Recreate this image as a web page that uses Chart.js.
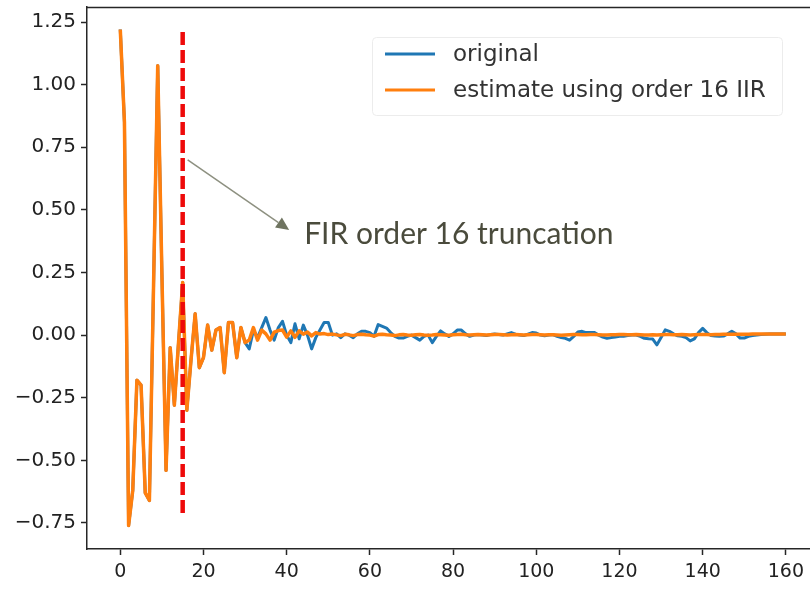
<!DOCTYPE html>
<html><head><meta charset="utf-8">
<script src="https://cdn.jsdelivr.net/npm/chart.js@4.4.1/dist/chart.umd.min.js"></script>
<style>html,body{margin:0;padding:0;background:#fff;overflow:hidden}canvas{display:block}</style>
</head><body>
<canvas id="c" width="810" height="589"></canvas>
<script>
// ---- data ----
const ORIGINAL = [
  1.22, 0.85, -0.76, -0.62, -0.18, -0.20, -0.63, -0.66, 0.20, 1.075,
  0.25, -0.54, -0.05, -0.28, -0.03, 0.21, -0.30, -0.10, 0.085, -0.13,
  -0.09, 0.04, -0.06, 0.02, 0.03, -0.15, 0.05, 0.05, -0.09, 0.03,
  -0.03, -0.055, 0.02, -0.01, 0.03, 0.07, 0.02, -0.02, 0.03, 0.055,
  0.0, -0.03, 0.045, -0.015, 0.04, 0.0, -0.055, -0.01, 0.02, 0.05,
  0.05, 0.0, 0.005, -0.01, 0.005, 0.0, -0.01, 0.005, 0.015, 0.015,
  0.01, -0.005, 0.042, 0.035, 0.028, 0.01, -0.005, -0.012, -0.012, -0.005,
  0.0, -0.01, -0.02, -0.005, 0.0, -0.03, -0.005, 0.017, 0.005, -0.005,
  0.005, 0.02, 0.02, 0.005, -0.005, 0.0, 0.002, 0.0, -0.002, 0.002,
  0.004, 0.002, 0.0, 0.005, 0.01, 0.004, 0.0, -0.002, 0.004, 0.01,
  0.008, 0.0, -0.003, 0.0, 0.002, -0.005, -0.01, -0.013, -0.02, -0.005,
  0.012, 0.015, 0.01, 0.01, 0.01, 0.0, -0.008, -0.013, -0.01, -0.008,
  -0.005, -0.005, -0.002, 0.0, 0.0, -0.005, -0.013, -0.015, -0.016, -0.039,
  -0.01, 0.021, 0.015, 0.005, -0.003, -0.005, -0.01, -0.023, -0.015, 0.01,
  0.027, 0.01, -0.002, -0.004, -0.005, -0.004, 0.005, 0.015, 0.005, -0.012,
  -0.012, -0.005, -0.002, 0.0, 0.002, 0.003, 0.004, 0.004, 0.004, 0.004,
  0.004
];
const ESTIMATE = [
  1.22, 0.85, -0.76, -0.62, -0.18, -0.20, -0.63, -0.66, 0.20, 1.075,
  0.25, -0.54, -0.05, -0.28, -0.03, 0.21, -0.30, -0.10, 0.085, -0.13,
  -0.09, 0.04, -0.06, 0.02, 0.03, -0.15, 0.05, 0.05, -0.09, 0.03,
  -0.03, -0.02, 0.03, -0.02, 0.02, 0.005, -0.02, 0.012, 0.018, 0.02,
  -0.008, 0.017, -0.009, 0.017, 0.004, 0.012, -0.003, 0.01, 0.004, 0.006,
  0.002, 0.004, 0.001, -0.002, 0.003, 0.001, -0.002, 0.002, 0.003, 0.001,
  0.0, -0.004, 0.002, 0.003, 0.001, 0.0, -0.002, 0.001, 0.002, 0.0,
  -0.001, 0.001, 0.002, 0.0, -0.001, 0.0, 0.002, 0.001, 0.0, -0.001,
  0.001, 0.002, 0.003, 0.001, 0.0, 0.001, 0.002, 0.001, 0.0, 0.001,
  0.002, 0.002, 0.001, 0.0, 0.001, 0.002, 0.001, 0.0, 0.001, 0.002,
  0.002, 0.001, 0.0, 0.001, 0.001, 0.0, -0.001, 0.0, 0.001, 0.002,
  0.002, 0.001, 0.001, 0.002, 0.002, 0.001, 0.0, 0.0, 0.001, 0.001,
  0.002, 0.002, 0.001, 0.001, 0.002, 0.001, 0.0, 0.0, 0.001, 0.0,
  0.001, 0.002, 0.002, 0.001, 0.001, 0.002, 0.001, 0.0, 0.001, 0.002,
  0.002, 0.002, 0.001, 0.002, 0.002, 0.003, 0.003, 0.003, 0.003, 0.003,
  0.003, 0.003, 0.004, 0.004, 0.004, 0.004, 0.004, 0.004, 0.004, 0.004,
  0.004
];
const SAMPLE_INDEX = ORIGINAL.map((_, i) => i);
const SERIES_LABELS = ['original', 'estimate using order 16 IIR'];
const X_TICKS = [0, 20, 40, 60, 80, 100, 120, 140, 160];
const Y_TICKS = [-0.75, -0.5, -0.25, 0, 0.25, 0.5, 0.75, 1.0, 1.25];
const TRUNC_X = [15, 15];
const TRUNC_Y = [1.21, -0.72];
const ANNOT_TEXT = 'FIR order 16 truncation';
// -----------------------------------------------

const AXIS_COLOR = '#262626';

const extrasPlugin = {
  id: 'extras',
  afterDraw(chart) {
    const ctx = chart.ctx, ca = chart.chartArea;
    const xs = chart.scales.x, ys = chart.scales.y;
    ctx.save();
    // top spine
    ctx.strokeStyle = AXIS_COLOR; ctx.lineWidth = 1.5;
    ctx.beginPath(); ctx.moveTo(ca.left, ca.top + 0.5); ctx.lineTo(ca.right, ca.top + 0.5); ctx.stroke();

    // legend
    ctx.fillStyle = 'rgba(255,255,255,0.85)';
    ctx.strokeStyle = '#ececec'; ctx.lineWidth = 1;
    ctx.beginPath();
    if (ctx.roundRect) ctx.roundRect(372.5, 37.5, 410, 78, 4); else ctx.rect(372.5, 37.5, 410, 78);
    ctx.fill(); ctx.stroke();
    const rows = [54, 90];
    ctx.font = '23px "DejaVu Sans"';
    ctx.textBaseline = 'middle';
    [0, 1].forEach((di, k) => {
      const ds = chart.data.datasets[di];
      ctx.strokeStyle = ds.borderColor; ctx.lineWidth = 3;
      ctx.beginPath(); ctx.moveTo(385, rows[k]); ctx.lineTo(435, rows[k]); ctx.stroke();
      ctx.fillStyle = '#333';
      ctx.fillText(ds.label, 453, rows[k] + 1);
    });

    // annotation arrow
    const x0 = xs.getPixelForValue(16.2), y0 = ys.getPixelForValue(0.70);
    const x1 = xs.getPixelForValue(40.6), y1 = ys.getPixelForValue(0.42);
    const ang = Math.atan2(y1 - y0, x1 - x0);
    const hl = 13, hw = 6;
    const bx = x1 - hl * Math.cos(ang), by = y1 - hl * Math.sin(ang);
    ctx.strokeStyle = '#8d9080'; ctx.lineWidth = 1.5;
    ctx.beginPath(); ctx.moveTo(x0, y0); ctx.lineTo(bx, by); ctx.stroke();
    ctx.fillStyle = '#6f7460';
    ctx.beginPath();
    ctx.moveTo(x1, y1);
    ctx.lineTo(bx + hw * Math.sin(ang), by - hw * Math.cos(ang));
    ctx.lineTo(bx - hw * Math.sin(ang), by + hw * Math.cos(ang));
    ctx.closePath(); ctx.fill();

    // annotation text
    ctx.fillStyle = '#4a4b3c';
    ctx.font = '30px Lato';
    ctx.textBaseline = 'alphabetic';
    ctx.fillText(ANNOT_TEXT, xs.getPixelForValue(44.2), ys.getPixelForValue(0.365));
    ctx.restore();
  }
};

const fmtY = v => {
  const s = Math.abs(v) < 1e-9 ? '0.00' : v.toFixed(2);
  return s.replace('-', '\u2212');
};

new Chart(document.getElementById('c'), {
  type: 'line',
  data: {
    datasets: [
      { label: SERIES_LABELS[0], data: SAMPLE_INDEX.map(i => ({ x: i, y: ORIGINAL[i] })),
        borderColor: '#1f77b4', borderWidth: 3, pointRadius: 0, tension: 0, order: 2,
        borderJoinStyle: 'round' },
      { label: SERIES_LABELS[1], data: SAMPLE_INDEX.map(i => ({ x: i, y: ESTIMATE[i] })),
        borderColor: '#ff7f0e', borderWidth: 3.5, pointRadius: 0, tension: 0, order: 1,
        borderJoinStyle: 'round' },
      { label: 'truncation', data: TRUNC_X.map((x, i) => ({ x, y: TRUNC_Y[i] })),
        borderColor: '#ee0a0a', borderWidth: 4.5, borderDash: [13, 5], pointRadius: 0, order: 0 }
    ]
  },
  options: {
    responsive: false,
    devicePixelRatio: 1,
    animation: false,
    layout: { padding: { top: 7, right: 0, left: 0, bottom: 0 } },
    plugins: { legend: { display: false }, tooltip: { enabled: false } },
    scales: {
      x: {
        type: 'linear', min: -8, max: 165.8,
        afterBuildTicks: s => { s.ticks = X_TICKS.map(v => ({ value: v })); },
        afterFit: s => { s.height = 40; s.paddingLeft = 0; s.paddingRight = 0; },
        ticks: { font: { family: 'DejaVu Sans', size: 19 }, color: '#222', padding: 6,
                 maxRotation: 0, autoSkip: false, callback: v => String(v) },
        grid: { drawOnChartArea: false, drawTicks: true, tickLength: 6, tickColor: AXIS_COLOR, tickWidth: 1.5 },
        border: { display: true, color: AXIS_COLOR, width: 1.5 }
      },
      y: {
        type: 'linear', min: -0.854, max: 1.31,
        afterBuildTicks: s => { s.ticks = Y_TICKS.map(v => ({ value: v })); },
        afterFit: s => { s.width = 87; s.paddingTop = 0; s.paddingBottom = 0; },
        ticks: { font: { family: 'DejaVu Sans', size: 20 }, color: '#222', padding: 5,
                 autoSkip: false, callback: v => fmtY(v) },
        grid: { drawOnChartArea: false, drawTicks: true, tickLength: 6, tickColor: AXIS_COLOR, tickWidth: 1.5 },
        border: { display: true, color: AXIS_COLOR, width: 1.5 }
      }
    }
  },
  plugins: [extrasPlugin]
});
</script>
</body></html>
